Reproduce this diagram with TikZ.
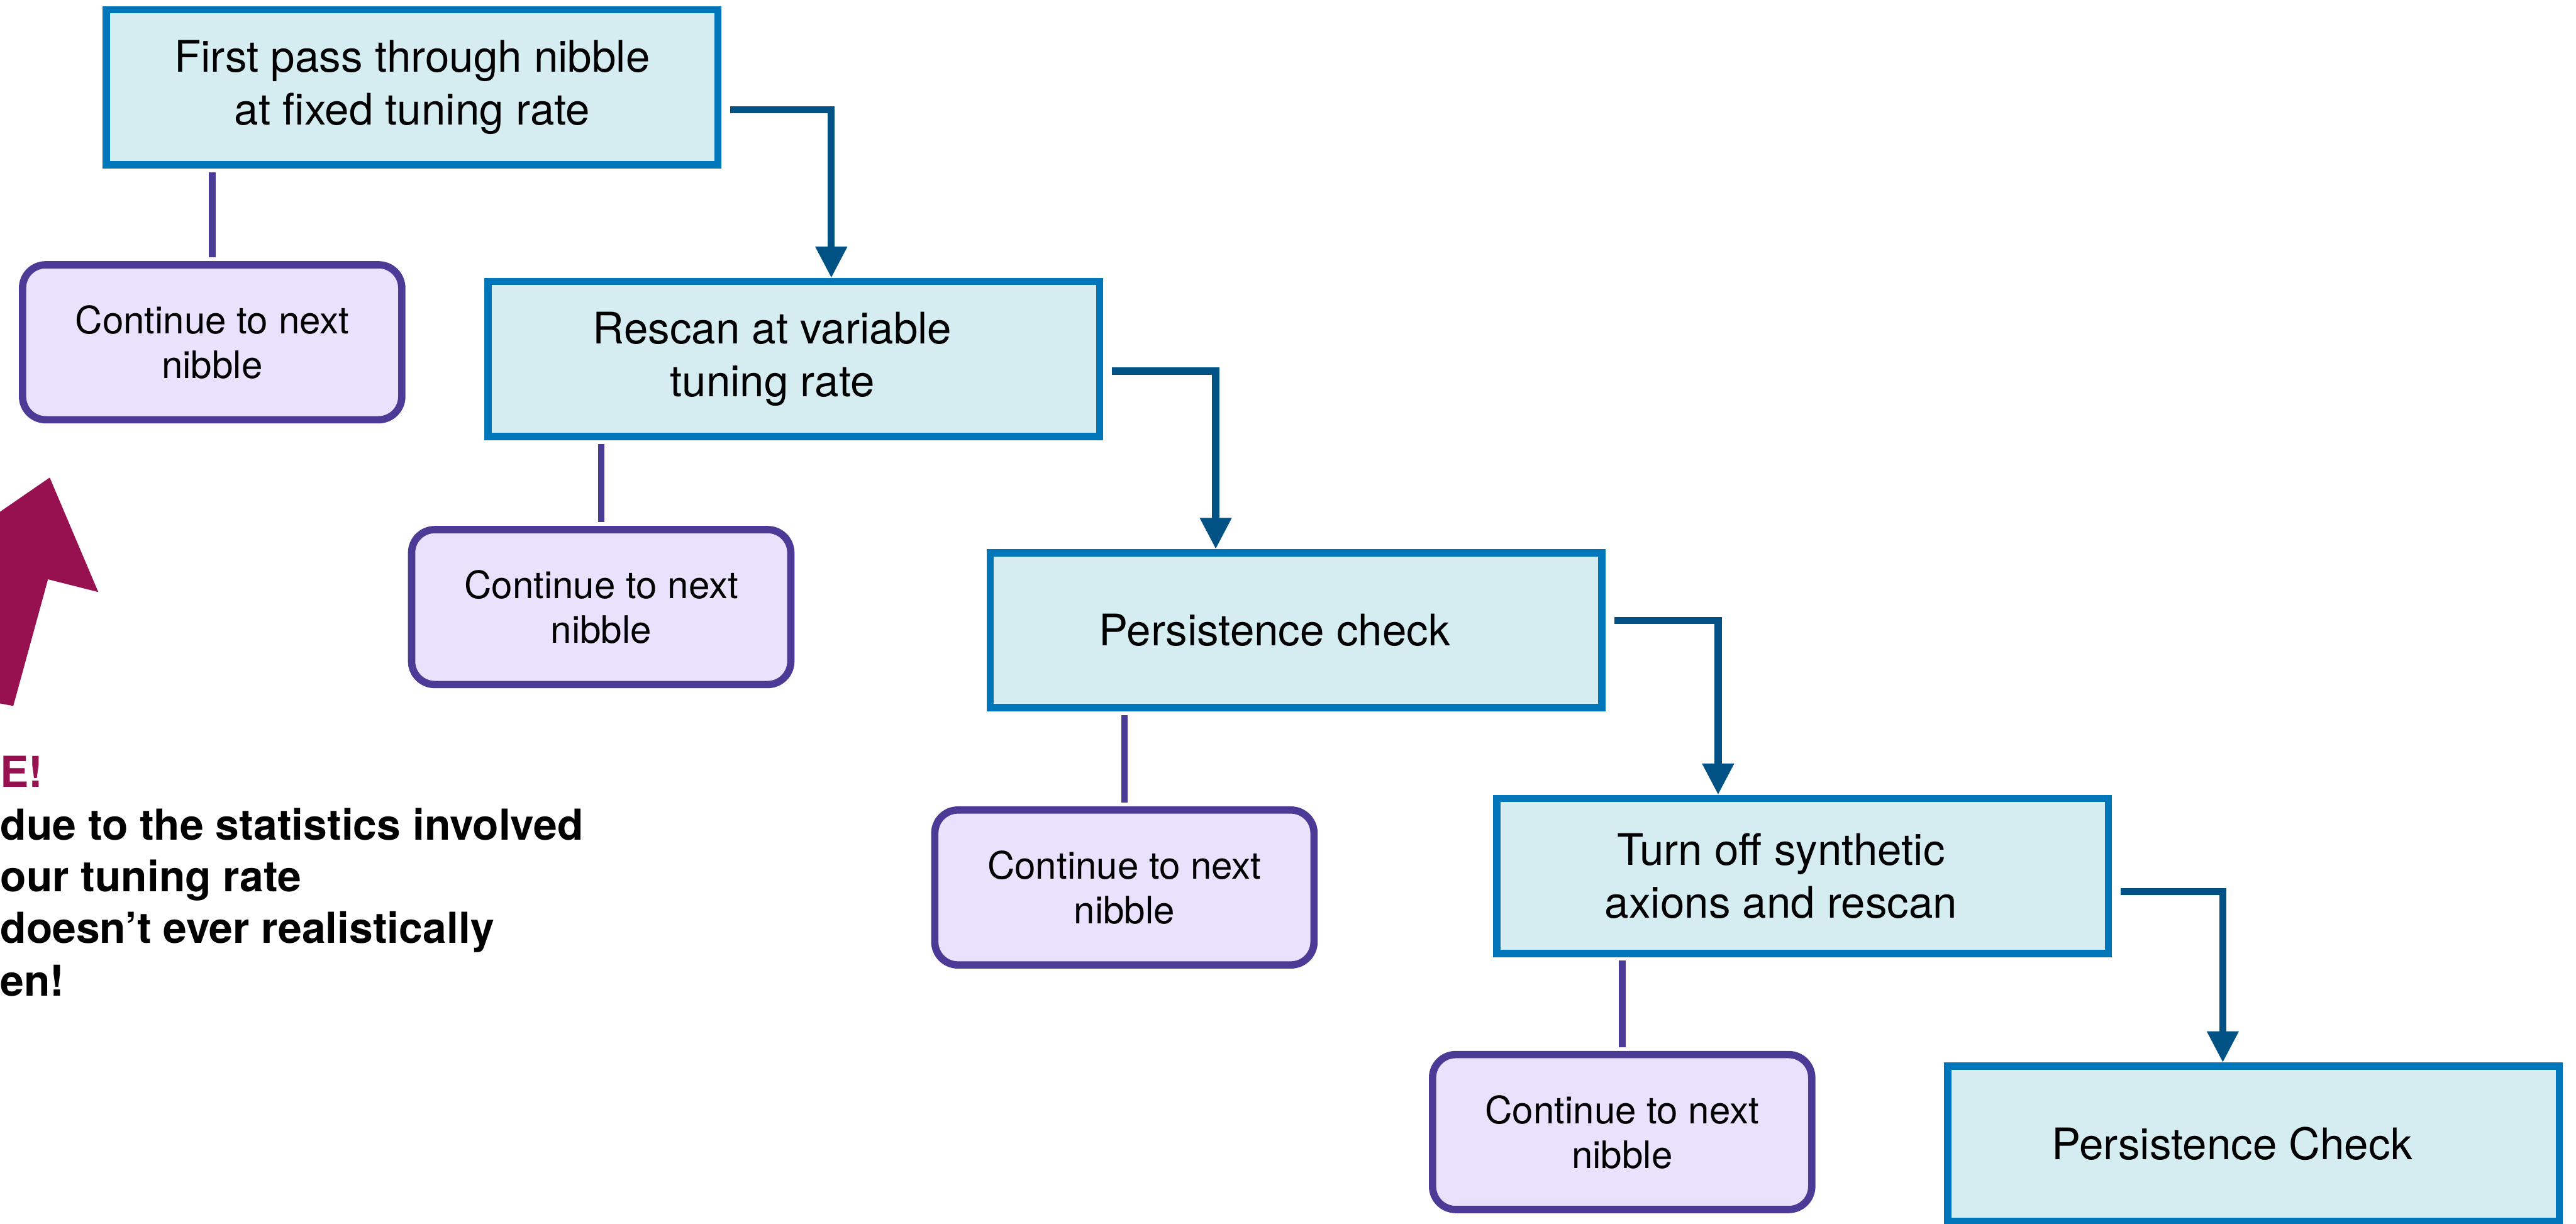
\documentclass[tikz,border=0pt]{standalone}
\usepackage{fontspec}
\setmainfont{TeX Gyre Heros}
\usepackage{tikz}
\usetikzlibrary{arrows.meta,calc}
\definecolor{boxfill}{RGB}{213,236,241}
\definecolor{boxline}{RGB}{0,118,186}
\definecolor{flowcol}{RGB}{0,81,132}
\definecolor{contfill}{RGB}{232,226,253}
\definecolor{contline}{RGB}{75,58,150}
\definecolor{notecol}{RGB}{151,16,80}
\newcommand{\nudge}{\hspace*{0.74cm}}

\begin{document}
\begin{tikzpicture}[
    stage/.style={draw=boxline, line width=3.6pt, fill=boxfill, minimum width=10.58cm, minimum height=2.68cm, align=center, font=\fontsize{21.4}{26}\selectfont},
    nextbox/.style={draw=contline, line width=3.6pt, fill=contfill, rounded corners=0.4cm, minimum width=6.56cm, minimum height=2.68cm, align=center, font=\fontsize{18.6}{22}\selectfont},
    flow/.style={draw=flowcol, line width=3.5pt, -{Triangle[length=0.54cm,width=0.52cm]}},
    drop/.style={draw=contline, line width=3.3pt, shorten <=1.8pt, shorten >=1.8pt},
    notetext/.style={anchor=base west, inner sep=0pt, font=\fontsize{21}{25.6}\selectfont\bfseries}
]
            \useasboundingbox (0,0) rectangle (44.56,-21.17);
            \clip (0,0) rectangle (44.56,-21.17);
            % Draw the main chain of steps
            \node[stage] (first) at (7.13,-1.51) {First pass through nibble\\at fixed tuning rate};
            \node[stage] (rescan) at (13.73,-6.21) {Rescan at variable\nudge\\tuning rate\nudge};
            \node[stage] (persist) at (22.42,-10.90) {Persistence check\nudge};
            \node[stage] (synth) at (31.18,-15.15) {Turn off synthetic\nudge\\axions and rescan\nudge};
            \node[stage] (final) at (38.98,-19.78) {Persistence Check\nudge};
            % Draw the side exits
            \node[nextbox] (cont1) at (3.67,-5.92) {Continue to next\\nibble};
            \node[nextbox] (cont2) at (10.40,-10.50) {Continue to next\\nibble};
            \node[nextbox] (cont3) at (19.45,-15.35) {Continue to next\\nibble};
            \node[nextbox] (cont4) at (28.06,-19.58) {Continue to next\\nibble};
            % Draw connecting arrows
            \draw[flow] ([xshift=0.15cm,yshift=-0.39cm]first.east) -| ([xshift=0.65cm]rescan.north);
            \draw[flow] ([xshift=0.15cm,yshift=-0.21cm]rescan.east) -| ([xshift=-1.39cm]persist.north);
            \draw[flow] ([xshift=0.15cm,yshift=0.17cm]persist.east) -| ([xshift=-1.46cm]synth.north);
            \draw[flow] ([xshift=0.15cm,yshift=-0.27cm]synth.east) -| ([xshift=-0.53cm]final.north);
            \draw[drop] (first.south -| cont1.north) -- (cont1.north);
            \draw[drop] (rescan.south -| cont2.north) -- (cont2.north);
            \draw[drop] (persist.south -| cont3.north) -- (cont3.north);
            \draw[drop] (synth.south -| cont4.north) -- (cont4.north);
            % Draw the note on the left
            \fill[notecol] (-0.2,-8.99) -- (0.86,-8.26) -- (1.70,-10.24) -- (0.83,-10.02) -- (0.23,-12.21) -- (-0.2,-12.13) -- cycle;
            \node[notetext, text=notecol] (note1) at (0,-13.62) {E!};
            \node[notetext] (note2) at (0,-14.53) {due to the statistics involved};
            \node[notetext] (note3) at (0,-15.42) {our tuning rate};
            \node[notetext] (note4) at (0,-16.31) {doesn’t ever realistically};
            \node[notetext] (note5) at (0,-17.23) {en!};
        \end{tikzpicture}
\end{document}
